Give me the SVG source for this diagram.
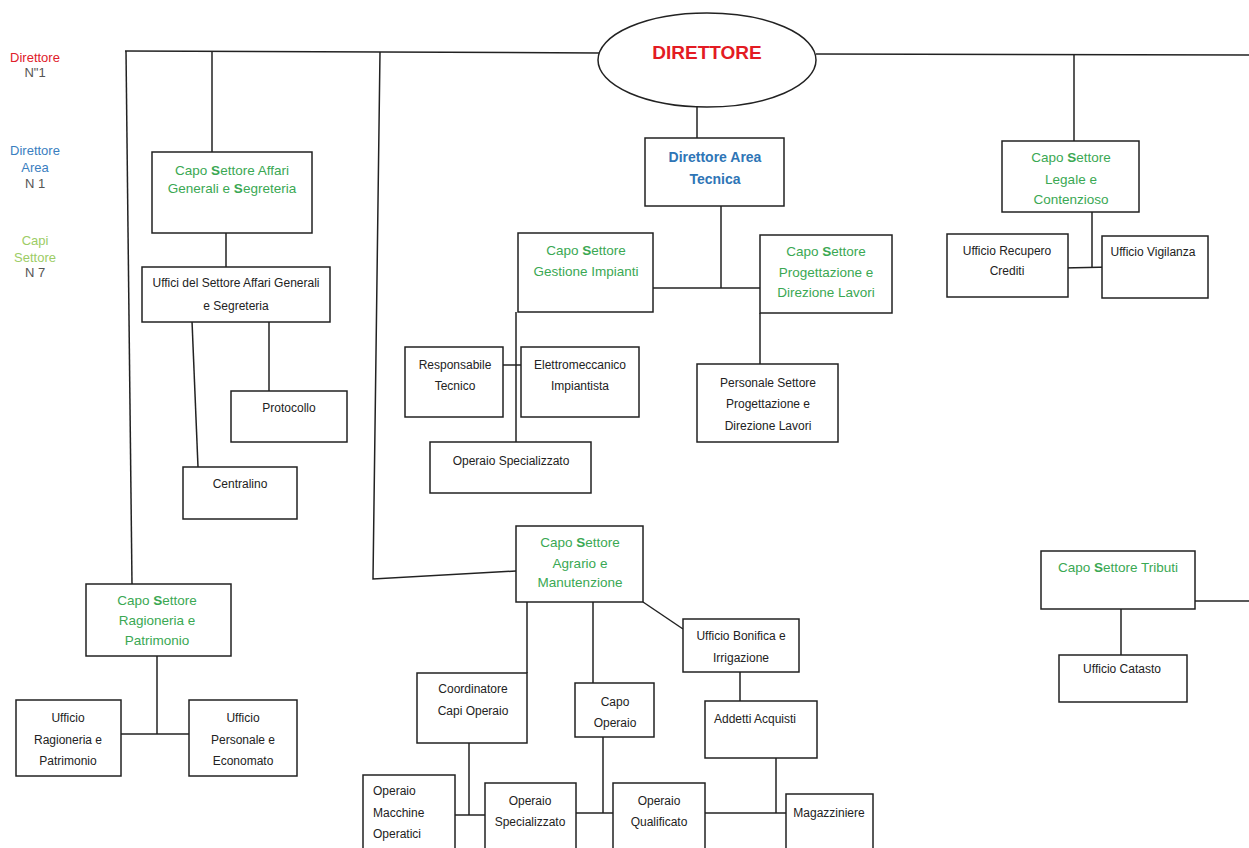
<svg xmlns="http://www.w3.org/2000/svg" width="1249" height="848" viewBox="0 0 1249 848">
<style>
.bx{fill:#fff;stroke:#222;stroke-width:1.5}
.ln{fill:none;stroke:#222;stroke-width:1.5}
.t{font-family:"Liberation Sans",Arial,sans-serif;font-size:12px;fill:#222;text-anchor:middle}
.t.l{text-anchor:start}
.g{font-family:"Liberation Sans",Arial,sans-serif;font-size:13.5px;fill:#3aa853;text-anchor:middle}
.g tspan.b{font-weight:bold}
.lg{font-family:"Liberation Sans",Arial,sans-serif;font-size:13px;text-anchor:middle}
</style>
<rect width="1249" height="848" fill="#fff"/>
<g id="connectors">
<polyline class="ln" points="125,51 599,53"/>
<polyline class="ln" points="816,54 1249,55"/>
<polyline class="ln" points="126,51 132,584"/>
<polyline class="ln" points="212,52 212,152"/>
<polyline class="ln" points="226,233 226,267"/>
<polyline class="ln" points="192,321 198,467"/>
<polyline class="ln" points="269,321 269,391"/>
<polyline class="ln" points="380,52 373,579 516,571"/>
<polyline class="ln" points="697,107 697,138"/>
<polyline class="ln" points="721,206 721,288"/>
<polyline class="ln" points="653,288 760,288"/>
<polyline class="ln" points="760,313 760,364"/>
<polyline class="ln" points="516,312 516,442"/>
<polyline class="ln" points="503,365 521,365"/>
<polyline class="ln" points="1074,55 1074,141"/>
<polyline class="ln" points="1092,212 1092,268"/>
<polyline class="ln" points="1063,268 1111,267"/>
<polyline class="ln" points="157,656 157,734"/>
<polyline class="ln" points="121,734 189,734"/>
<polyline class="ln" points="527,602 527,673"/>
<polyline class="ln" points="593,602 593,683"/>
<polyline class="ln" points="643,602 683,629"/>
<polyline class="ln" points="740,672 740,701"/>
<polyline class="ln" points="776,758 776,813"/>
<polyline class="ln" points="705,813 786,813"/>
<polyline class="ln" points="603,737 603,813"/>
<polyline class="ln" points="576,813 613,813"/>
<polyline class="ln" points="469,743 469,815"/>
<polyline class="ln" points="455,815 485,815"/>
<polyline class="ln" points="1195,601 1249,601"/>
<polyline class="ln" points="1121,609 1121,655"/>
</g>
<g id="legend">
<text class="lg" x="35" y="62" fill="#e0202a">Direttore</text>
<text class="lg" x="35" y="77" fill="#555">N"1</text>
<text class="lg" x="35" y="155" fill="#3a7ec0">Direttore</text>
<text class="lg" x="35" y="172" fill="#3a7ec0">Area</text>
<text class="lg" x="35" y="188" fill="#555">N 1</text>
<text class="lg" x="35" y="245" fill="#9ccc65">Capi</text>
<text class="lg" x="35" y="262" fill="#9ccc65">Settore</text>
<text class="lg" x="35" y="277" fill="#555">N 7</text>
</g>
<g id="direttore">
<ellipse cx="707" cy="60" rx="109" ry="47" fill="#fff" stroke="#222" stroke-width="1.5"/>
<text x="707" y="59" font-family="Liberation Sans,Arial,sans-serif" font-size="19" font-weight="bold" fill="#e31b23" text-anchor="middle">DIRETTORE</text>
</g>
<g id="affari-generali">
<rect class="bx" x="152" y="152" width="160" height="81"/>
<text class="g" x="232" y="175">Capo <tspan class="b">S</tspan>ettore Affari</text>
<text class="g" x="232" y="193">Generali e <tspan class="b">S</tspan>egreteria</text>
</g>
<g id="uffici-affari">
<rect class="bx" x="142" y="267" width="188" height="55"/>
<text class="t" x="236" y="287">Uffici del Settore Affari Generali</text>
<text class="t" x="236" y="310">e Segreteria</text>
</g>
<g id="protocollo">
<rect class="bx" x="231" y="391" width="116" height="51"/>
<text class="t" x="289" y="412">Protocollo</text>
</g>
<g id="centralino">
<rect class="bx" x="183" y="467" width="114" height="52"/>
<text class="t" x="240" y="488">Centralino</text>
</g>
<g id="area-tecnica">
<rect class="bx" x="645" y="138" width="139" height="68"/>
<text x="715" y="162" font-family="Liberation Sans,Arial,sans-serif" font-size="14" font-weight="bold" fill="#2e75b6" text-anchor="middle">Direttore Area</text>
<text x="715" y="184" font-family="Liberation Sans,Arial,sans-serif" font-size="14" font-weight="bold" fill="#2e75b6" text-anchor="middle">Tecnica</text>
</g>
<g id="gestione-impianti">
<rect class="bx" x="518" y="233" width="135" height="79"/>
<text class="g" x="586" y="255">Capo <tspan class="b">S</tspan>ettore</text>
<text class="g" x="586" y="276">Gestione Impianti</text>
</g>
<g id="progettazione">
<rect class="bx" x="760" y="235" width="132" height="78"/>
<text class="g" x="826" y="256">Capo <tspan class="b">S</tspan>ettore</text>
<text class="g" x="826" y="277">Progettazione e</text>
<text class="g" x="826" y="297">Direzione Lavori</text>
</g>
<g id="personale-progettazione">
<rect class="bx" x="697" y="364" width="141" height="78"/>
<text class="t" x="768" y="387">Personale Settore</text>
<text class="t" x="768" y="408">Progettazione e</text>
<text class="t" x="768" y="430">Direzione Lavori</text>
</g>
<g id="responsabile-tecnico">
<rect class="bx" x="405" y="347" width="98" height="70"/>
<text class="t" x="455" y="369">Responsabile</text>
<text class="t" x="455" y="390">Tecnico</text>
</g>
<g id="elettromeccanico">
<rect class="bx" x="521" y="347" width="118" height="70"/>
<text class="t" x="580" y="369">Elettromeccanico</text>
<text class="t" x="580" y="390">Impiantista</text>
</g>
<g id="operaio-specializzato-impianti">
<rect class="bx" x="430" y="442" width="161" height="51"/>
<text class="t" x="511" y="465">Operaio Specializzato</text>
</g>
<g id="legale">
<rect class="bx" x="1002" y="141" width="137" height="71"/>
<text class="g" x="1071" y="162">Capo <tspan class="b">S</tspan>ettore</text>
<text class="g" x="1071" y="184">Legale e</text>
<text class="g" x="1071" y="204">Contenzioso</text>
</g>
<g id="recupero-crediti">
<rect class="bx" x="947" y="234" width="121" height="63"/>
<text class="t" x="1007" y="255">Ufficio Recupero</text>
<text class="t" x="1007" y="275">Crediti</text>
</g>
<g id="vigilanza">
<rect class="bx" x="1102" y="236" width="106" height="62"/>
<text class="t" x="1153" y="256">Ufficio Vigilanza</text>
</g>
<g id="ragioneria">
<rect class="bx" x="86" y="584" width="145" height="72"/>
<text class="g" x="157" y="605">Capo <tspan class="b">S</tspan>ettore</text>
<text class="g" x="157" y="625">Ragioneria e</text>
<text class="g" x="157" y="645">Patrimonio</text>
</g>
<g id="ufficio-ragioneria">
<rect class="bx" x="16" y="700" width="105" height="76"/>
<text class="t" x="68" y="722">Ufficio</text>
<text class="t" x="68" y="744">Ragioneria e</text>
<text class="t" x="68" y="765">Patrimonio</text>
</g>
<g id="ufficio-personale">
<rect class="bx" x="189" y="700" width="108" height="76"/>
<text class="t" x="243" y="722">Ufficio</text>
<text class="t" x="243" y="744">Personale e</text>
<text class="t" x="243" y="765">Economato</text>
</g>
<g id="agrario">
<rect class="bx" x="516" y="526" width="127" height="76"/>
<text class="g" x="580" y="547">Capo <tspan class="b">S</tspan>ettore</text>
<text class="g" x="580" y="568">Agrario e</text>
<text class="g" x="580" y="587">Manutenzione</text>
</g>
<g id="coordinatore">
<rect class="bx" x="417" y="673" width="110" height="70"/>
<text class="t" x="473" y="693">Coordinatore</text>
<text class="t" x="473" y="715">Capi Operaio</text>
</g>
<g id="capo-operaio">
<rect class="bx" x="575" y="683" width="79" height="54"/>
<text class="t" x="615" y="706">Capo</text>
<text class="t" x="615" y="727">Operaio</text>
</g>
<g id="bonifica">
<rect class="bx" x="683" y="619" width="116" height="53"/>
<text class="t" x="741" y="640">Ufficio Bonifica e</text>
<text class="t" x="741" y="662">Irrigazione</text>
</g>
<g id="addetti-acquisti">
<rect class="bx" x="705" y="701" width="112" height="57"/>
<text class="t" x="755" y="723">Addetti Acquisti</text>
</g>
<g id="operaio-macchine">
<rect class="bx" x="363" y="775" width="92" height="90"/>
<text class="t l" x="373" y="795">Operaio</text>
<text class="t l" x="373" y="817">Macchine</text>
<text class="t l" x="373" y="838">Operatici</text>
</g>
<g id="operaio-specializzato">
<rect class="bx" x="485" y="783" width="91" height="80"/>
<text class="t" x="530" y="805">Operaio</text>
<text class="t" x="530" y="826">Specializzato</text>
</g>
<g id="operaio-qualificato">
<rect class="bx" x="613" y="783" width="92" height="80"/>
<text class="t" x="659" y="805">Operaio</text>
<text class="t" x="659" y="826">Qualificato</text>
</g>
<g id="magazziniere">
<rect class="bx" x="786" y="794" width="87" height="70"/>
<text class="t" x="829" y="817">Magazziniere</text>
</g>
<g id="tributi">
<rect class="bx" x="1041" y="551" width="154" height="58"/>
<text class="g" x="1118" y="572">Capo <tspan class="b">S</tspan>ettore Tributi</text>
</g>
<g id="catasto">
<rect class="bx" x="1059" y="655" width="128" height="47"/>
<text class="t" x="1122" y="673">Ufficio Catasto</text>
</g>
</svg>
